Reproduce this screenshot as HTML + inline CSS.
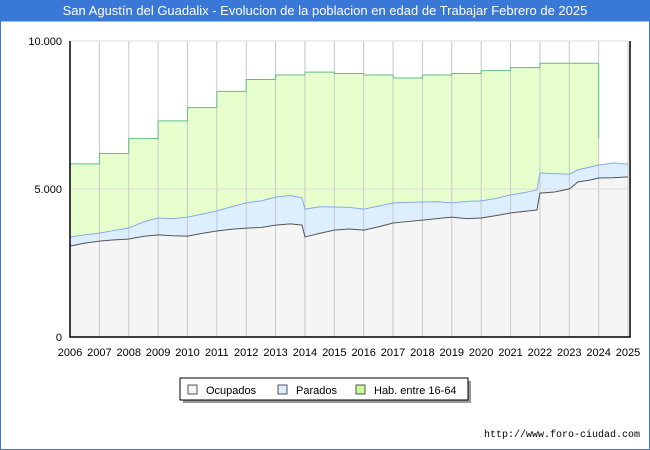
<!DOCTYPE html>
<html><head><meta charset="utf-8"><style>
body{margin:0;background:#fff;font-family:"Liberation Sans",sans-serif}
#w{position:relative;width:650px;height:450px;overflow:hidden;background:#fff}
</style></head><body>
<div id="w">
<svg width="650" height="450" id="svg">
<rect x="0" y="0" width="650" height="21" fill="#3a78d8"/>
<text x="325" y="15" text-anchor="middle" fill="#fff" font-size="13" font-family="Liberation Sans, sans-serif">San Agustín del Guadalix - Evolucion de la poblacion en edad de Trabajar Febrero de 2025</text>
<rect x="0.5" y="21" width="649" height="428.5" fill="none" stroke="#3a78d8"/>
<g id="plot"></g>
<g>
<rect x="183" y="381" width="288" height="22" fill="#999"/>
<rect x="180" y="378" width="288" height="22" fill="#fff" stroke="#000" stroke-width="1"/>
<rect x="188" y="385" width="9" height="9" fill="#f5f5f5" stroke="#555"/>
<text x="206" y="394" font-size="11">Ocupados</text>
<rect x="278" y="385" width="9" height="9" fill="#ddeeff" stroke="#555"/>
<text x="296" y="394" font-size="11">Parados</text>
<rect x="356" y="385" width="9" height="9" fill="#ccff99" stroke="#555"/>
<text x="374" y="394" font-size="11">Hab. entre 16-64</text>
</g>
<text x="640" y="437" text-anchor="end" font-size="10" font-family="Liberation Mono, monospace">http://www.foro-ciudad.com</text>
</svg>
</div>
<script>
const years=[2006,2007,2008,2009,2010,2011,2012,2013,2014,2015,2016,2017,2018,2019,2020,2021,2022,2023,2024,2025];
const habYears=[2006,2007,2008,2009,2010,2011,2012,2013,2014,2015,2016,2017,2018,2019,2020,2021,2022,2023];
const habValues=[5850,6200,6700,7300,7750,8300,8700,8850,8950,8900,8850,8750,8850,8900,9000,9100,9250,9250];
const habEnd=6700;
const tTimes=[2006,2006.5,2007,2007.5,2008,2008.5,2009,2009.5,2010,2010.5,2011,2011.5,2012,2012.5,2013,2013.5,2013.9,2014,2014.5,2015,2015.5,2016,2016.5,2017,2017.5,2018,2018.5,2019,2019.5,2020,2020.5,2021,2021.5,2021.9,2022,2022.5,2023,2023.3,2023.7,2024,2024.5,2025];
const paradosTop=[3380,3450,3510,3600,3680,3890,4020,4000,4050,4150,4260,4400,4530,4600,4730,4780,4700,4320,4400,4390,4380,4320,4420,4530,4550,4560,4570,4530,4580,4600,4680,4800,4880,4970,5540,5520,5500,5650,5740,5810,5880,5840];
const ocupados=[3070,3170,3240,3280,3310,3400,3450,3420,3410,3500,3580,3640,3680,3700,3780,3820,3780,3380,3500,3610,3650,3610,3720,3850,3900,3950,4000,4050,4000,4020,4100,4190,4250,4290,4860,4900,5000,5240,5300,5370,5380,5410];
const yTicks=[0,5000,10000];
const yTickLabels=["0","5.000","10.000"];
const X0=70,X1=628,Y0=337,Y1=41;
const xs=t=>X0+(t-2006)/(2025-2006)*(X1-X0);
const ys=v=>Y0-v/10000*(Y0-Y1);
const NS="http://www.w3.org/2000/svg";
const g=document.getElementById('plot');
function mk(tag,attrs){const e=document.createElementNS(NS,tag);for(const k in attrs)e.setAttribute(k,attrs[k]);g.appendChild(e);return e;}
// hab area
let hp=`M${xs(2006)},${ys(0)}`;
habYears.forEach((y,i)=>{hp+=` L${xs(y)},${ys(habValues[i])} L${xs(y+1)},${ys(habValues[i])}`;});
hp+=` L${xs(2024)},${ys(habEnd)} L${xs(2024)},${ys(0)} Z`;
let hl='M'+hp.slice(1).split(' Z')[0].split(' ').slice(1,-1).join(' ');
const ha=mk('path',{d:hp,fill:'#e6ffcc'});


const pp=tTimes.map((t,i)=>`${xs(t)},${ys(paradosTop[i])}`).join(' L');
const pa=mk('path',{d:`M${xs(2006)},${ys(0)} L${pp} L${xs(2025)},${ys(0)} Z`,fill:'#ddeeff'});


const op=tTimes.map((t,i)=>`${xs(t)},${ys(ocupados[i])}`).join(' L');
const oa=mk('path',{d:`M${xs(2006)},${ys(0)} L${op} L${xs(2025)},${ys(0)} Z`,fill:'#f5f5f5'});


// grid
years.forEach(y=>{const l=mk('line',{x1:xs(y),x2:xs(y),y1:Y1,y2:Y0,stroke:'#c8c8c8','stroke-width':1});

});
yTicks.forEach((v,i)=>{if(v>0){const l=mk('line',{x1:X0,x2:X1,y1:ys(v),y2:ys(v),stroke:'#dddddd','stroke-width':1});

}
const tx=mk('text',{x:X0-8,y:ys(v)+4,'text-anchor':'end','font-size':11});tx.textContent=yTickLabels[i];

});
years.forEach(y=>{const tx=mk('text',{x:xs(y),y:Y0+19,'text-anchor':'middle','font-size':11});tx.textContent=y;

});
// lines
const hl2=mk('path',{d:hp.replace(/^M[^L]*L/,'M').replace(/ L[^L]*Z$/,''),fill:'none',stroke:'#66bb88','stroke-width':1});


const pl=mk('path',{d:'M'+pp,fill:'none',stroke:'#88aaee','stroke-width':1});


const ol=mk('path',{d:'M'+op,fill:'none',stroke:'#555','stroke-width':1});


const ax=mk('path',{d:`M${X0},${Y1} L${X0},${Y0} L${X1+2},${Y0} L${X1+2},${Y1}`,fill:'none',stroke:'#000','stroke-width':1.5});


</script>
</body></html>
